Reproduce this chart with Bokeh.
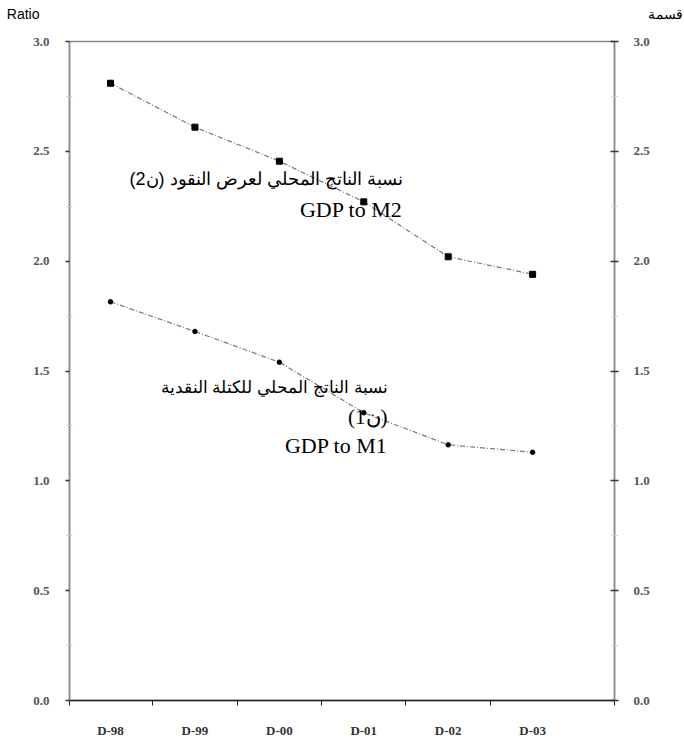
from bokeh.plotting import figure
from bokeh.models import (Range1d, LinearAxis, FixedTicker, Label, ColumnDataSource)
from bokeh.layouts import column
from bokeh.embed import file_html
from bokeh.resources import INLINE

# ---- data ----
periods = ["D-98", "D-99", "D-00", "D-01", "D-02", "D-03"]
gdp_to_m2 = [2.81, 2.61, 2.455, 2.27, 2.02, 1.94]
gdp_to_m1 = [1.815, 1.68, 1.54, 1.31, 1.164, 1.13]
y_ticks = [0.0, 0.5, 1.0, 1.5, 2.0, 2.5, 3.0]
y_minor = [0.25, 0.75, 1.25, 1.75, 2.25, 2.75]
label_m2_ar = "نسبة الناتج المحلي لعرض النقود (ن2)"
label_m2_en = "GDP to M2"
label_m1_ar = "نسبة الناتج المحلي للكتلة النقدية"
label_m1_ar2 = "(ن1)"
label_m1_en = "GDP to M1"
left_title = "Ratio"
right_title = "قسمة"

TOP_H = 26
xs = list(range(len(periods)))
src = ColumnDataSource(dict(x=xs, m2=gdp_to_m2, m1=gdp_to_m1))

ar_font = "Liberation Sans"
serif = "Liberation Serif"

# ---- header strip: the two axis titles drawn as axis labels ----
top = figure(output_backend="svg", toolbar_location=None,
             frame_width=545, frame_height=TOP_H,
             min_border_left=69, min_border_right=70, min_border_top=0, min_border_bottom=0,
             x_range=Range1d(0, 1), y_range=Range1d(TOP_H, 0),
             x_axis_location=None, y_axis_location=None)
top.grid.visible = False
top.outline_line_color = None
top.border_fill_color = "white"

def title_axis(text, standoff):
    ax = LinearAxis(ticker=FixedTicker(ticks=[13]))
    ax.major_label_overrides = {13: text}
    ax.axis_line_color = None
    ax.major_tick_line_color = None
    ax.minor_tick_line_color = None
    ax.major_tick_out = 0
    ax.major_tick_in = 0
    ax.major_label_standoff = standoff
    ax.major_label_text_font = ar_font
    ax.major_label_text_font_size = "14px"
    ax.major_label_text_color = "black"
    return ax

top.add_layout(title_axis(left_title, 30), "left")
top.add_layout(title_axis(right_title, 33), "right")

# ---- main chart ----
p = figure(output_backend="svg", toolbar_location=None,
           frame_width=545, frame_height=659,
           min_border_left=69, min_border_right=70,
           min_border_top=41 - TOP_H, min_border_bottom=41,
           x_range=Range1d(-0.486, 5.97), y_range=Range1d(0, 3),
           x_axis_location=None, y_axis_location=None)
p.background_fill_color = "white"
p.border_fill_color = "white"
p.grid.visible = False
p.outline_line_color = "#8a8a8a"
p.outline_line_width = 1.5

# x axis
xax = LinearAxis(ticker=FixedTicker(ticks=xs, minor_ticks=[-0.486, 0.5, 1.5, 2.5, 3.5, 4.5, 5.97]))
xax.major_label_overrides = {i: periods[i] for i in xs}
xax.major_tick_line_color = None
xax.major_tick_out = 0
xax.major_tick_in = 0
xax.minor_tick_out = 5
xax.minor_tick_in = 0
xax.minor_tick_line_color = "#222222"
xax.axis_line_color = "#222222"
xax.axis_line_width = 1.5
xax.major_label_text_font = serif
xax.major_label_text_font_size = "13px"
xax.major_label_text_font_style = "bold"
xax.major_label_text_color = "#333333"
xax.major_label_standoff = 17
p.add_layout(xax, "below")

def yaxis():
    ax = LinearAxis(ticker=FixedTicker(ticks=y_ticks, minor_ticks=y_minor))
    ax.major_label_overrides = {v: f"{v:.1f}" for v in y_ticks}
    ax.axis_line_color = "#8a8a8a"
    ax.axis_line_width = 1.5
    ax.major_tick_line_color = "#333333"
    ax.major_tick_line_width = 1.5
    ax.minor_tick_line_color = "#c8c8c8"
    ax.minor_tick_in = 3
    ax.minor_tick_out = 3
    ax.major_label_text_font = serif
    ax.major_label_text_font_size = "13px"
    ax.major_label_text_font_style = "bold"
    ax.major_label_text_color = "#555555"
    return ax

lax = yaxis()
lax.major_tick_out = 4
lax.major_tick_in = 0
lax.major_label_standoff = 16
p.add_layout(lax, "left")

rax = yaxis()
rax.major_tick_out = 4
rax.major_tick_in = 4
rax.major_label_standoff = 15
p.add_layout(rax, "right")

# lines
p.line("x", "m2", source=src, line_color="#777777", line_width=1.2, line_dash="5 2 1 2")
p.scatter("x", "m2", source=src, marker="square", size=6, fill_color="black", line_color="black")
p.line("x", "m1", source=src, line_color="#777777", line_width=1.2, line_dash="5 2 1 2")
p.scatter("x", "m1", source=src, marker="circle", size=4.5, fill_color="black", line_color="black")

# annotations
def lab(x, y, text, font, size):
    p.add_layout(Label(x=x, y=y, text=text, text_font=font, text_font_size=size,
                       text_align="right", text_baseline="middle", text_color="black"))

def dx(px):
    return -0.486 + (px - 69) / 84.4

def dy(py):
    return (700 - py) / 220.0

lab(dx(402), dy(178), label_m2_ar, ar_font, "18px")
lab(dx(402), dy(208), label_m2_en, serif, "22px")
lab(dx(387), dy(387), label_m1_ar, ar_font, "17px")
lab(dx(387), dy(416), label_m1_ar2, serif, "21px")
lab(dx(387), dy(445), label_m1_en, serif, "22px")

layout = column(top, p, spacing=0)
open("out.html", "w").write(file_html(layout, INLINE))
